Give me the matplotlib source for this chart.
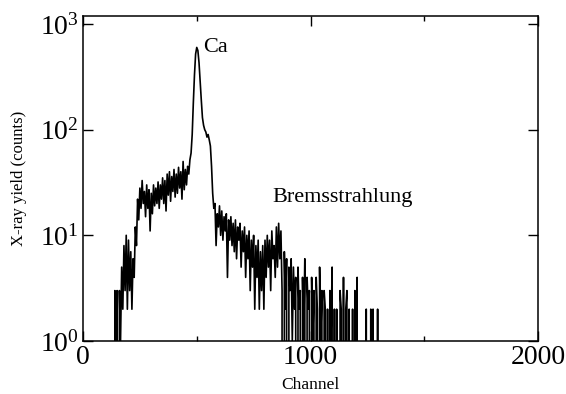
import matplotlib
matplotlib.use("Agg")
import matplotlib.pyplot as plt
from matplotlib.ticker import FixedLocator, NullLocator, LogFormatterMathtext

plt.rcParams['font.family'] = ['Liberation Serif', 'DejaVu Serif']
plt.rcParams['mathtext.fontset'] = 'custom'
plt.rcParams['mathtext.rm'] = 'Liberation Serif'
plt.rcParams['mathtext.it'] = 'Liberation Serif:italic'

channel_start = 135
channel_step = 5
counts = [
    0, 3, 0, 3, 0, 3, 1, 5, 2, 8,          # 135-180
    3, 10, 2, 9, 3, 7, 2, 6, 4, 12,        # 185-230
    8, 22, 14, 28, 18, 33, 20, 26, 15, 30, # 235-280
    18, 27, 11, 25, 16, 30, 19, 28, 20, 32,# 285-330
    18, 30, 22, 35, 20, 33, 17, 38, 24, 40,# 335-380
    21, 36, 26, 42, 23, 38, 25, 44, 28, 40,# 385-430
    22, 50, 27, 42, 30, 45, 38, 52, 60, 90,# 435-480
    180, 330, 520, 600, 560, 430, 280, 190, 130, 110, # 485-530
    100, 95, 85, 90, 80, 70, 45, 25, 18, 20,  # 535-580
    8, 16, 12, 19, 10, 17, 9, 15, 11, 16,     # 585-630
    4, 14, 9, 15, 8, 13, 7, 14, 6, 12,        # 635-680
    9, 13, 5, 11, 7, 12, 4, 10, 6, 11,        # 685-730
    3, 9, 5, 10, 2, 8, 4, 9, 2, 7,            # 735-780
    3, 8, 2, 9, 4, 10, 5, 9, 3, 11,           # 785-830
    6, 8, 4, 12, 5, 13, 6, 11, 3, 0,          # 835-880
    7, 2, 6, 0, 5, 3, 6, 1, 5, 2,             # 885-930
    4, 0, 5, 2, 3, 0, 4, 1, 6, 0,             # 935-980
    4, 2, 3, 0, 4, 1, 3, 0, 4, 2,             # 985-1030
    0, 5, 1, 3, 0, 3, 2, 0, 2, 0,             # 1035-1080
    3, 1, 5, 0, 2, 0, 2, 0, 0, 3,             # 1085-1130
    2, 0, 4, 0, 2, 3, 0, 2, 0, 0,             # 1135-1180
    2, 0, 3, 0, 4, 0, 0, 0, 0, 0,             # 1185-1230
    0, 0, 2, 0, 0, 0, 2, 0, 2, 0,             # 1235-1280
    0, 0, 2, 0, 0,                            # 1285-1305
]
channels = [channel_start + channel_step * i for i in range(len(counts))]

x_ticks = [0, 1000, 2000]
x_minor = [500, 1500]
y_ticks = [1, 10, 100, 1000]
peak_label = "Ca"
brems_label = "Bremsstrahlung"

fig = plt.figure(figsize=(5.66, 3.94), dpi=100)
ax = fig.add_axes([83 / 566, 53 / 394, 455 / 566, 325 / 394])
ax.plot(channels, counts, color='black', lw=1.2)
ax.set_yscale('log', nonpositive='clip')
ax.set_xlim(0, 2000)
ax.set_ylim(1, 1190)

ax.xaxis.set_major_locator(FixedLocator(x_ticks))
ax.xaxis.set_minor_locator(FixedLocator(x_minor))
ax.yaxis.set_major_locator(FixedLocator(y_ticks))
ax.yaxis.set_minor_locator(NullLocator())
ax.yaxis.set_major_formatter(LogFormatterMathtext())
ax.tick_params(which='both', direction='in', top=True, right=True, width=1.0)
ax.tick_params(which='major', length=7, labelsize=20, pad=3)
ax.tick_params(which='minor', length=3.5)
for s in ax.spines.values():
    s.set_linewidth(1.1)

ax.set_xlabel("Channel", fontsize=12.5, labelpad=5)
ax.set_ylabel("X-ray yield (counts)", fontsize=12, labelpad=9)

ax.text(527, 600, peak_label, fontsize=16, va='center', ha='left')
ax.text(831, 23, brems_label, fontsize=16, va='center', ha='left')

fig.savefig("out.png", dpi=100)
